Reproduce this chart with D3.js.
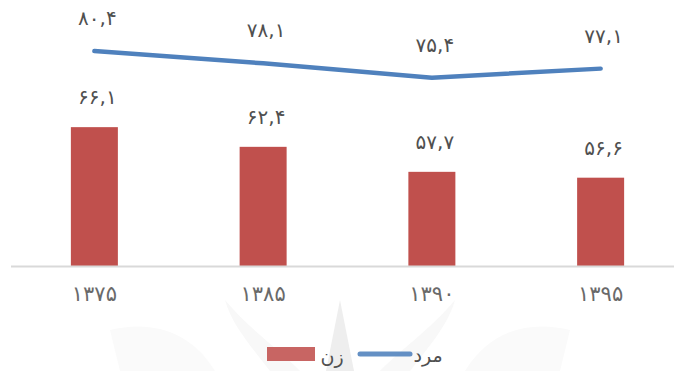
<!DOCTYPE html>
<html>
<head>
<meta charset="utf-8">
<script src="https://cdn.jsdelivr.net/npm/d3@7"></script>
<style>
  body { margin: 0; background: #fff; }
  text { font-family: "DejaVu Sans", sans-serif; }
</style>
</head>
<body>
<div id="chart"></div>
<script>
// data
let years = ["۱۳۷۵", "۱۳۸۵", "۱۳۹۰", "۱۳۹۵"];
let women = [66.1, 62.4, 57.7, 56.6];
let men = [80.4, 78.1, 75.4, 77.1];
let seriesNames = ["زن", "مرد"];

let svgWidth = 674;
let svgHeight = 371;

// persian digits + comma decimal
function fa(v) {
	let s = v.toFixed(1).replace(".", ",");
	return s.replace(/[0-9]/g, d => "۰۱۲۳۴۵۶۷۸۹"[+d]);
}

let svg = d3.select("#chart")
	.append("svg")
	.attr("width", svgWidth)
	.attr("height", svgHeight);

// faint watermark behind the chart
let wm = svg.append("g").attr("fill", "#f8f8f8");
wm.append("path").attr("d", "M340,300 L326,371 L354,371 Z").attr("fill", "#eeeeee");
wm.append("path").attr("d", "M225,300 C250,330 280,350 300,371 L270,371 C250,345 232,325 225,300 Z");
wm.append("path").attr("d", "M455,300 C430,330 400,350 380,371 L410,371 C430,345 448,325 455,300 Z");
wm.append("path").attr("d", "M110,330 C150,320 190,330 215,371 L120,371 Z").attr("fill", "#fafafa");
wm.append("path").attr("d", "M570,330 C530,320 490,330 465,371 L560,371 Z").attr("fill", "#fafafa");

let x = d3.scaleBand()
	.domain(years)
	.range([10, 685])
	.padding(0);

let y = d3.scaleLinear()
	.domain([40, 90])
	.range([266, 0]);

let barW = 47;
let cx = d => x(d) + x.bandwidth() / 2;

// bars
svg.append("g")
	.selectAll("rect")
	.data(years)
	.enter()
	.append("rect")
	.attr("x", d => cx(d) - barW / 2)
	.attr("y", (d, i) => y(women[i]))
	.attr("width", barW)
	.attr("height", (d, i) => y(40) - y(women[i]))
	.attr("fill", "#C0504D");

// axis
let bottomAxis = d3.axisBottom(x).tickSize(0).tickPadding(20);
let axisG = svg.append("g")
	.attr("transform", `translate(0, ${y(40)})`)
	.call(bottomAxis);
axisG.select(".domain").remove();
axisG.append("line")
	.attr("x1", 11).attr("x2", 674)
	.attr("y1", 0.5).attr("y2", 0.5)
	.attr("stroke", "#d9d9d9")
	.attr("stroke-width", 2);
axisG.selectAll(".tick text")
	.attr("fill", "#6a6a6a")
	.style("font-size", "21px")
	.style("letter-spacing", "-1.5px")
	.attr("font-family", "DejaVu Sans");

// line
let line = d3.line()
	.x(d => cx(d))
	.y((d, i) => y(men[years.indexOf(d)]));

svg.append("path")
	.datum(years)
	.attr("d", line)
	.attr("fill", "none")
	.attr("stroke", "#4F81BD")
	.attr("stroke-width", 4.5)
	.attr("stroke-linecap", "round")
	.attr("stroke-linejoin", "round");

// bar labels
svg.append("g")
	.selectAll("text")
	.data(years)
	.enter()
	.append("text")
	.attr("x", d => cx(d) + 3)
	.attr("y", (d, i) => y(women[i]) - 30)
	.attr("text-anchor", "middle")
	.attr("dominant-baseline", "central")
	.attr("fill", "#505050")
	.style("font-size", "20px")
	.style("letter-spacing", "-1px")
	.text((d, i) => fa(women[i]));

// line labels
svg.append("g")
	.selectAll("text")
	.data(years)
	.enter()
	.append("text")
	.attr("x", d => cx(d) + 3)
	.attr("y", (d, i) => y(men[i]) - 33)
	.attr("text-anchor", "middle")
	.attr("dominant-baseline", "central")
	.attr("fill", "#505050")
	.style("font-size", "20px")
	.style("letter-spacing", "-1px")
	.text((d, i) => fa(men[i]));

// legend
let legend = svg.append("g");
legend.append("rect")
	.attr("x", 267).attr("y", 347)
	.attr("width", 48).attr("height", 14)
	.attr("fill", "#C0504D").attr("opacity", 0.88);
legend.append("text")
	.attr("x", 332).attr("y", 356)
	.attr("text-anchor", "middle")
	.attr("dominant-baseline", "central")
	.attr("fill", "#505050")
	.style("font-size", "19px")
	.text(seriesNames[0]);
legend.append("line")
	.attr("x1", 360).attr("x2", 410)
	.attr("y1", 354).attr("y2", 354)
	.attr("stroke", "#4F81BD").attr("stroke-width", 5)
	.attr("stroke-linecap", "round").attr("opacity", 0.88);
legend.append("text")
	.attr("x", 428).attr("y", 355)
	.attr("text-anchor", "middle")
	.attr("dominant-baseline", "central")
	.attr("fill", "#505050")
	.style("font-size", "19px")
	.text(seriesNames[1]);
</script>
</body>
</html>
